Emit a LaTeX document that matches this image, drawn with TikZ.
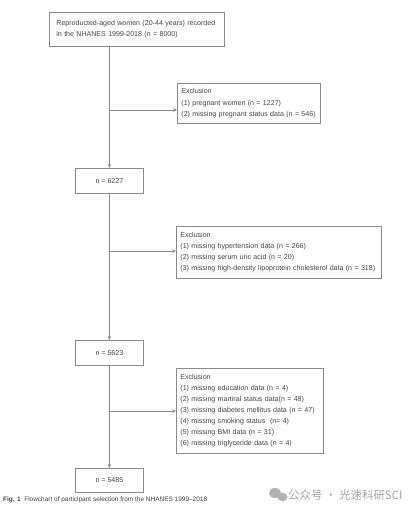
\documentclass[tikz,border=0pt]{standalone}
\usepackage{fontspec}
\setmainfont{Liberation Sans}
\newfontfamily\cjk{Noto Sans CJK SC}
\usetikzlibrary{arrows.meta}
\definecolor{linegray}{HTML}{8A8A8A}
\definecolor{textgray}{HTML}{444444}
\tikzset{
  flowbox/.style={draw=linegray, line width=0.8pt, anchor=north west, inner sep=0pt,
    text=textgray, font=\fontsize{7.1}{11.5}\selectfont},
  leftbox/.style={flowbox, align=left},
  flowarrow/.style={draw=linegray, line width=0.8pt, -{Stealth[length=4pt,width=3.5pt]}}
}
\begin{document}
\begin{tikzpicture}[x=1bp,y=-1bp]
\useasboundingbox[fill=white] (0,0) rectangle (417,512);

% boxes
\node[leftbox, minimum width=175bp, minimum height=34bp, font=\fontsize{7.1}{10.7}\selectfont,
  text width=161bp] (start) at (49,12)
  {Reproducted-aged women (20-44 years) recorded\\in the NHANES 1999-2018 (n = 8000)};
\node[flowbox, minimum width=68bp, minimum height=25bp] (n1) at (75,168) {n = 6227};
\node[flowbox, minimum width=68bp, minimum height=25bp] (n2) at (75,340) {n = 5623};
\node[flowbox, minimum width=68bp, minimum height=24bp] (n3) at (75,468) {n = 5485};

% exclusions
\node[leftbox, minimum width=143bp, minimum height=40bp, text width=135bp] (ex1) at (177,83)
  {Exclusion\\(1) pregnant women (n = 1227)\\(2) missing pregnant status data (n = 546)};
\node[leftbox, minimum width=205bp, minimum height=52bp, text width=197bp,
  font=\fontsize{7.1}{11}\selectfont] (ex2) at (176,226)
  {Exclusion\\(1) missing hypertension data (n = 266)\\(2) missing serum uric acid (n = 20)\\(3) missing high-density lipoprotein cholesterol data (n = 318)};
\node[leftbox, minimum width=147bp, minimum height=85bp, text width=139bp,
  font=\fontsize{7.1}{11}\selectfont] (ex3) at (176,368)
  {Exclusion\\(1) missing education data (n = 4)\\(2) missing martiral status data(n = 48)\\(3) missing diabetes mellitus data (n = 47)\\(4) missing smoking status\ \ (n= 4)\\(5) missing BMI data (n = 31)\\(6) missing triglyceride data (n = 4)};

% main flow
\draw[flowarrow] (start.south -| n1.north) -- (n1.north);
\draw[flowarrow] (n1.south) -- (n2.north);
\draw[flowarrow] (n2.south) -- (n3.north);

% branches
\coordinate (b1) at (109,110);
\coordinate (b2) at (109,251);
\coordinate (b3) at (109,411);
\draw[flowarrow] (b1) -- (b1 -| ex1.west);
\draw[flowarrow] (b2) -- (b2 -| ex2.west);
\draw[flowarrow] (b3) -- (b3 -| ex3.west);

% caption
\node[anchor=west, inner sep=0pt, text=textgray, font=\fontsize{6.5}{7}\selectfont] (cap) at (3,500)
  {\textbf{Fig. 1}\ \ Flowchart of participant selection from the NHANES 1999--2018};

% watermark
\fill[black!30] (275,493) ellipse (6bp and 5bp);
\fill[black!30] (282.5,497) ellipse (5bp and 4.2bp);
\node[anchor=west, inner sep=0pt, text=black!35, font=\cjk\fontsize{11.5}{12}\selectfont] (mark) at (288,495)
  {公众号 · 光速科研SCI};

\end{tikzpicture}
\end{document}
